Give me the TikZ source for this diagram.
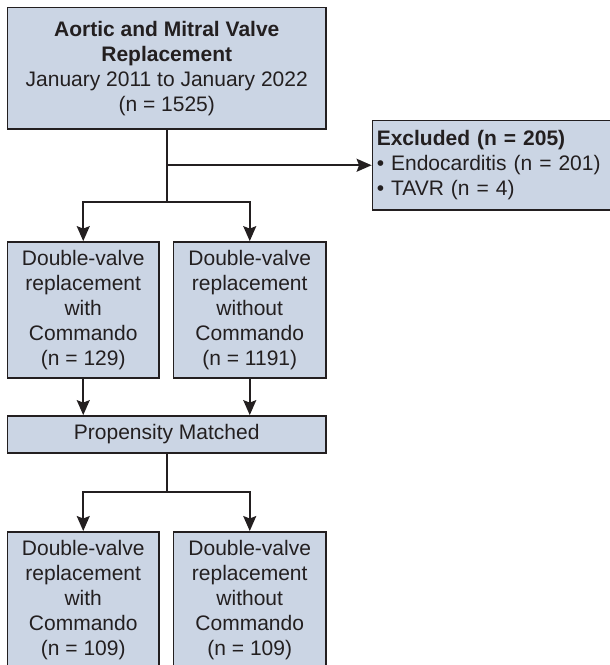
\documentclass[tikz,border=0pt]{standalone}
\usepackage{fontspec}
\setmainfont{Liberation Sans}
\usetikzlibrary{arrows.meta}
\definecolor{boxfill}{HTML}{CBD5E4}
\definecolor{boxline}{HTML}{231F20}
\tikzset{
  box/.style={draw=boxline, fill=boxfill, line width=1.8pt, align=center,
    font=\fontsize{21}{25}\selectfont, inner sep=0pt, text=boxline},
  arr/.style={draw=boxline, line width=1.8pt, -{Stealth[length=15pt, width=13pt, inset=2.5pt]}},
  ln/.style={draw=boxline, line width=1.8pt}
}
\begin{document}
\begin{tikzpicture}[x=1pt, y=-1pt]
\useasboundingbox (0,0) rectangle (610,665);
\clip (0,0) rectangle (610,665);
\node[box, minimum width=318.5pt, minimum height=121.5pt] (top) at (166.75,68.25)
  {\textbf{Aortic and Mitral Valve}\\\textbf{Replacement}\\January 2011 to January 2022\\(n = 1525)};
\node[box, minimum width=239.5pt, minimum height=89.5pt, text width=231pt, align=left, inner xsep=4.25pt] (excl) at (492.25,165.25)
  {\textbf{Excluded (n = 205)}\\\textbullet{} Endocarditis (n = 201)\\\textbullet{} TAVR (n = 4)};
\node[box, minimum width=151.5pt, minimum height=136pt] (b1) at (83.25,310)
  {Double-valve\\replacement\\with\\Commando\\(n = 129)};
\node[box, minimum width=152.5pt, minimum height=136pt] (b2) at (249.75,310)
  {Double-valve\\replacement\\without\\Commando\\(n = 1191)};
\node[box, minimum width=318.5pt, minimum height=37pt] (prop) at (166.75,434.5)
  {Propensity Matched};
\node[box, minimum width=151.5pt, minimum height=136pt, anchor=north] (c1) at (83.25,531)
  {Double-valve\\replacement\\with\\Commando\\(n = 109)};
\node[box, minimum width=152.5pt, minimum height=136pt, anchor=north] (c2) at (249.75,531)
  {Double-valve\\replacement\\without\\Commando\\(n = 109)};
\coordinate (j1) at (166.75,202);
\coordinate (j2) at (166.75,492);
\draw[ln] (top.south) -- (j1);
\draw[arr] (top.south |- excl.west) -- (excl.west);
\draw[arr] (j1) -| (b1.north);
\draw[arr] (j1) -| (b2.north);
\draw[arr] (b1.south) -- (b1.south |- prop.north);
\draw[arr] (b2.south) -- (b2.south |- prop.north);
\draw[ln] (prop.south) -- (j2);
\draw[arr] (j2) -| (c1.north);
\draw[arr] (j2) -| (c2.north);
\end{tikzpicture}
\end{document}
